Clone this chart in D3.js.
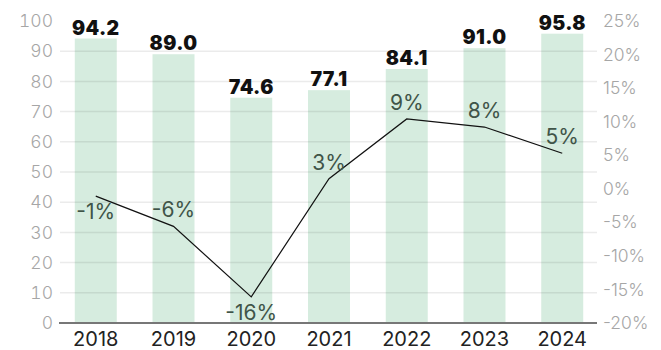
<!DOCTYPE html>
<html>
<head>
<meta charset="utf-8">
<script src="https://cdn.jsdelivr.net/npm/d3@7"></script>
<style>
  html, body { margin: 0; padding: 0; background: #fff; }
  svg text { font-family: "Inter", "Noto Sans", sans-serif; }
  .tick-num text { font-feature-settings: "tnum"; }
</style>
</head>
<body>
<script>
  // chart values
  const years = ["2018", "2019", "2020", "2021", "2022", "2023", "2024"];
  const values = [94.2, 89.0, 74.6, 77.1, 84.1, 91.0, 95.8];
  const growth = [-1.1, -5.6, -16.1, 1.5, 10.4, 9.2, 5.3];
  const growthLabels = ["-1%", "-6%", "-16%", "3%", "9%", "8%", "5%"];
  const leftTicks = [0, 10, 20, 30, 40, 50, 60, 70, 80, 90, 100];
  const rightTicks = [-20, -15, -10, -5, 0, 5, 10, 15, 20, 25];

  // labels that sit under their point instead of above
  const labelsBelow = ["2018", "2020"];

  const width = 661, height = 350;

  const svg = d3.select("body")
    .append("svg")
      .attr("width", width)
      .attr("height", height);

  let x = d3.scaleBand()
    .domain(years)
    .range([60, 598])
    .paddingInner(0.46)
    .paddingOuter(0.19);

  let y = d3.scaleLinear()
    .domain([0, 100])
    .range([323, 21]);

  let yRight = d3.scaleLinear()
    .domain([-20, 25])
    .range([323, 21]);

  // bars
  svg.selectAll(".bar")
    .data(years)
    .enter()
    .append("rect")
      .attr("class", "bar")
      .attr("x", (d) => x(d))
      .attr("y", (d, i) => y(values[i]))
      .attr("width", x.bandwidth())
      .attr("height", (d, i) => y(0) - y(values[i]))
      .attr("fill", "#d6ecdf");

  // gridlines on top of the bars
  svg.selectAll(".grid")
    .data(leftTicks.filter((t) => t > 0 && t < 100))
    .enter()
    .append("line")
      .attr("x1", 60)
      .attr("x2", 597)
      .attr("y1", (d) => y(d))
      .attr("y2", (d) => y(d))
      .attr("stroke", "rgba(0,0,0,0.08)")
      .attr("stroke-width", 1.5);

  // left axis
  let leftAxis = d3.axisLeft(y).tickValues(leftTicks).tickSize(0).tickPadding(7);
  let gLeft = svg.append("g")
    .attr("class", "tick-num")
    .attr("transform", "translate(60,0)")
    .call(leftAxis);
  gLeft.select(".domain").remove();
  gLeft.selectAll("text")
    .attr("fill", "#a6a6a6")
    .attr("font-size", 17.5)
    .attr("font-weight", 300);

  // right axis
  let rightAxis = d3.axisRight(yRight).tickValues(rightTicks).tickSize(0)
    .tickPadding(6).tickFormat((d) => d + "%");
  let gRight = svg.append("g")
    .attr("transform", "translate(597,0)")
    .call(rightAxis);
  gRight.select(".domain").remove();
  gRight.selectAll("text")
    .attr("fill", "#a6a6a6")
    .attr("font-size", 17.5)
    .attr("font-weight", 300);

  // bottom axis
  let bottomAxis = d3.axisBottom(x).tickSize(0).tickPadding(9);
  let gBottom = svg.append("g")
    .attr("transform", "translate(0,323)")
    .call(bottomAxis);
  gBottom.select(".domain")
    .attr("d", "M59,0H597")
    .attr("stroke", "#777")
    .attr("stroke-width", 2);
  gBottom.selectAll("text")
    .attr("fill", "#222")
    .attr("font-size", 20)
    .attr("font-weight", 400);

  // value labels above bars
  svg.selectAll(".val")
    .data(years)
    .enter()
    .append("text")
      .attr("x", (d) => x(d) + x.bandwidth() / 2)
      .attr("y", (d, i) => y(values[i]) - 4)
      .attr("text-anchor", "middle")
      .attr("font-size", 19.5)
      .attr("font-weight", 900)
      .attr("letter-spacing", 0.4)
      .attr("fill", "#111")
      .text((d, i) => values[i].toFixed(1));

  // growth line
  let line = d3.line()
    .x((d, i) => x(years[i]) + x.bandwidth() / 2)
    .y((d) => yRight(d));

  svg.append("path")
    .datum(growth)
    .attr("d", line)
    .attr("fill", "none")
    .attr("stroke", "#111")
    .attr("stroke-width", 1.2);

  // growth labels
  svg.selectAll(".growth")
    .data(years)
    .enter()
    .append("text")
      .attr("x", (d) => x(d) + x.bandwidth() / 2)
      .attr("y", (d, i) => yRight(growth[i]) + (labelsBelow.includes(d) ? 23 : -9))
      .attr("text-anchor", "middle")
      .attr("font-size", 21)
      .attr("font-weight", 400)
      .attr("fill", "#405448")
      .text((d, i) => growthLabels[i]);
</script>
</body>
</html>
